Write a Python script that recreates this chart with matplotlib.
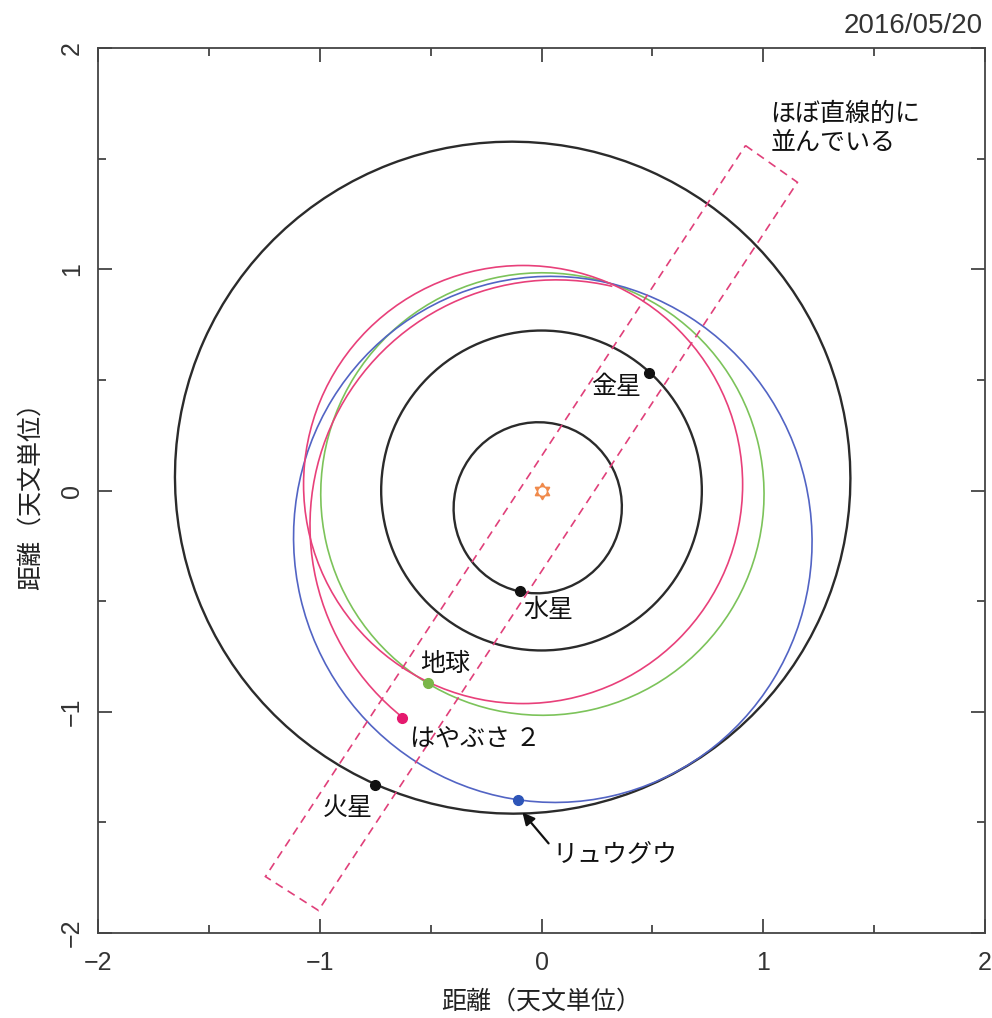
import matplotlib
matplotlib.use('Agg')
import matplotlib.pyplot as plt
from matplotlib.patches import Ellipse, Arc, Polygon
from matplotlib.ticker import MultipleLocator

plt.rcParams['font.family'] = ['Noto Sans CJK JP', 'DejaVu Sans']

# orbits (heliocentric, AU): centre, full width/height, tilt of major axis
orbit_cx = [-0.017, 0.0, 0.004, -0.130, 0.051, -0.083]
orbit_cy = [-0.078, 0.0, -0.016, 0.058, -0.221, 0.027]
orbit_w = [0.774, 1.446, 2.000, 3.048, 2.380, 1.980]
orbit_h = [0.758, 1.446, 1.999, 3.035, 2.336, 1.980]
orbit_angle = [77.5, 0.0, 102.9, 336.1, 103.0, 0.0]
orbit_color = ['#2b2b2b', '#2b2b2b', '#7cc35a', '#2b2b2b', '#5264c4', '#e8407a']

# hayabusa2 after the earth swing-by (arc up to its current place)
hy_arc_c = [0.066, -0.158]
hy_arc_r = 1.11
hy_arc_theta = [76.8, 231.4]

# bodies on 2016/05/20
body_names = ['水星', '金星', '地球', '火星', 'リュウグウ', 'はやぶさ ２']
body_x = [-0.099, 0.487, -0.514, -0.749, -0.104, -0.627]
body_y = [-0.456, 0.533, -0.872, -1.329, -1.401, -1.026]
body_color = ['#111111', '#111111', '#7ab648', '#111111', '#2d55b8', '#e5196e']

label_x = [0.032, 0.334, -0.433, -0.875, 0.05, -0.595]
label_y = [-0.542, 0.466, -0.782, -1.433, -1.645, -1.121]
label_ha = ['center', 'center', 'center', 'center', 'left', 'left']

# dashed box around the aligned bodies
box_x = [0.920, 1.154, -1.006, -1.245]
box_y = [1.559, 1.393, -1.898, -1.745]

fig = plt.figure(figsize=(9.92, 10.18), dpi=100)
ax = fig.add_axes([98 / 992, 85 / 1018, 887 / 992, 885 / 1018])
ax.set_xlim(-2, 2)
ax.set_ylim(-2, 2)

for i in range(len(orbit_cx)):
    lw = 1.7 if orbit_color[i] == '#2b2b2b' else 1.2
    ax.add_patch(Ellipse((orbit_cx[i], orbit_cy[i]), orbit_w[i], orbit_h[i],
                         angle=orbit_angle[i], fill=False, ec=orbit_color[i],
                         lw=lw, zorder=2))

ax.add_patch(Arc(hy_arc_c, 2 * hy_arc_r, 2 * hy_arc_r,
                 theta1=hy_arc_theta[0], theta2=hy_arc_theta[1],
                 ec='#e8407a', lw=1.2, zorder=3))

ax.add_patch(Polygon(list(zip(box_x, box_y)), closed=True, fill=False,
                     ec='#e0407a', lw=1.2, ls=(0, (5, 3.5)), zorder=4))

# sun: hexagram with a hole
ax.plot([0], [0], marker=(3, 0, 0), ms=12, color='#f08a4b', mec='#f08a4b',
        ls='none', zorder=5)
ax.plot([0], [0], marker=(3, 0, 180), ms=12, color='#f08a4b', mec='#f08a4b',
        ls='none', zorder=5)
ax.plot([0], [0], marker='o', ms=5, color='white', mec='white', zorder=6)

for i in range(len(body_x)):
    ax.plot(body_x[i], body_y[i], 'o', ms=7, color=body_color[i],
            mec=body_color[i], zorder=7)
    ax.text(label_x[i], label_y[i], body_names[i], ha=label_ha[i], va='center',
            fontsize=18, color='#111111', zorder=8)

ax.annotate('', xy=(-0.086, -1.455), xytext=(0.032, -1.595),
            arrowprops=dict(arrowstyle='-|>', color='#111111', lw=1.6,
                            mutation_scale=18, shrinkA=0, shrinkB=0), zorder=8)

ax.text(1.033, 1.705, 'ほぼ直線的に', ha='left', va='center', fontsize=18,
        color='#111111')
ax.text(1.033, 1.572, '並んでいる', ha='left', va='center', fontsize=18,
        color='#111111')

fig.text(983 / 992, 1 - 26 / 1018, '2016/05/20', ha='right', va='center',
         fontsize=20, color='#333333', family='Liberation Sans')

# axes styling
for s in ax.spines.values():
    s.set_color('#444444')
    s.set_linewidth(1.3)
ax.xaxis.set_major_locator(MultipleLocator(1))
ax.yaxis.set_major_locator(MultipleLocator(1))
ax.xaxis.set_minor_locator(MultipleLocator(0.5))
ax.yaxis.set_minor_locator(MultipleLocator(0.5))
ax.tick_params(which='both', direction='in', top=True, right=True,
               color='#444444', width=1.3)
ax.tick_params(which='major', length=10)
ax.tick_params(which='minor', length=6)
ax.tick_params(axis='x', pad=13, labelsize=18, labelcolor='#333333')
ax.tick_params(axis='y', pad=10, labelsize=18, labelcolor='#333333')
for t in ax.get_xticklabels() + ax.get_yticklabels():
    t.set_family('Liberation Sans')
for t in ax.get_yticklabels():
    t.set_rotation(90)
    t.set_va('center')

ax.set_xlabel('距離（天文単位）', fontsize=18, color='#222222', labelpad=10)
ax.set_ylabel('距離（天文単位）', fontsize=18, color='#222222', labelpad=12)

fig.savefig('out.png', dpi=100)
